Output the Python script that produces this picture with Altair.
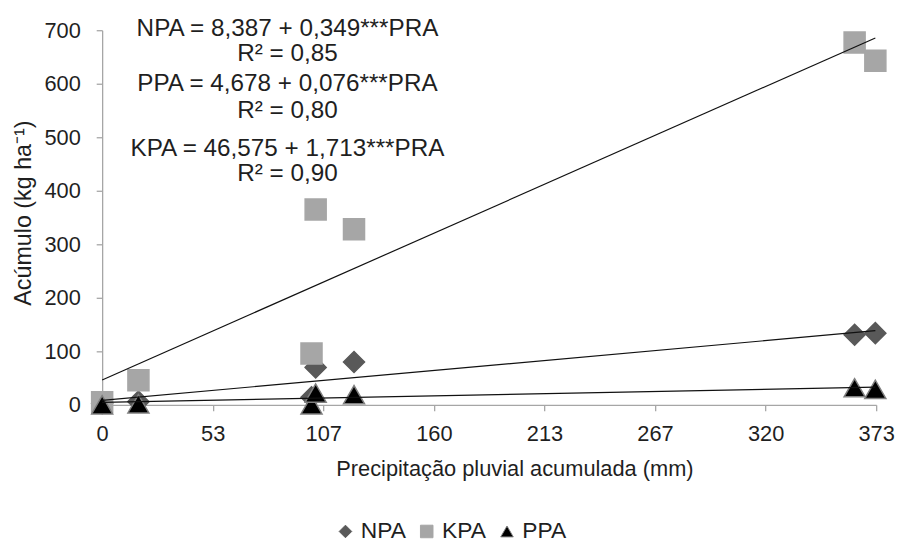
import altair as alt
import pandas as pd

# ---- data ----
series = ["NPA", "KPA", "PPA"]
x_vals = [0, 17.5, 101, 103, 121.5, 363, 373]
npa = [3, 6, 14, 70, 80, 131, 134]
kpa = [5, 46, 96, 365, 328, 677, 643]
ppa = [0, 2, 0, 22, 19, 32, 29]

line_x = [0, 373]
npa_fit = [8.387, 138.56]
kpa_fit = [46.575, 685.52]
ppa_fit = [4.678, 33.03]

x_ticks = [0, 53.343, 106.686, 160.029, 213.371, 266.714, 320.057, 373.4]
y_ticks = [0, 100, 200, 300, 400, 500, 600, 700]

eq_lines = [
    "NPA = 8,387 + 0,349***PRA",
    "R² = 0,85",
    "PPA = 4,678 + 0,076***PRA",
    "R² = 0,80",
    "KPA = 46,575 + 1,713***PRA",
    "R² = 0,90",
]
eq_y = [-1, 24, 54, 82, 120, 145]

FONT = "Liberation Sans"
TXT = "#1f1f1f"
AX = "#a6a6a6"

rows = []
for name, vals in zip(series, [npa, kpa, ppa]):
    for xv, yv in zip(x_vals, vals):
        rows.append({"x": xv, "y": yv, "serie": name})
df_pts = pd.DataFrame(rows)

lrows = []
for name, vals in zip(series, [npa_fit, kpa_fit, ppa_fit]):
    for xv, yv in zip(line_x, vals):
        lrows.append({"x": xv, "y": yv, "serie": name})
df_lines = pd.DataFrame(lrows)

xscale = alt.Scale(domain=[0, 373.4], nice=False, zero=False)
yscale = alt.Scale(domain=[0, 700], nice=False, zero=False)

xaxis = alt.Axis(
    values=x_ticks, format=".0f", title="Precipitação pluvial acumulada (mm)",
    grid=False, tickSize=6, labelPadding=30, labelBaseline="alphabetic",
    labelFlush=False, labelOverlap=False, titleX=416, titleY=71,
    titleBaseline="alphabetic", titleAlign="center",
)
yaxis = alt.Axis(
    values=y_ticks, format="d", title="Acúmulo (kg ha⁻¹)", grid=False,
    tickSize=6, labelPadding=16, labelFlush=False, titleAngle=270,
    titleX=-79, titleY=184, titleBaseline="middle", titleAlign="center",
    titleFontSize=23.5,
)

leg = alt.Legend(
    title=None, orient="none", legendX=234, legendY=494, direction="horizontal",
    symbolSize=160, labelFontSize=23, labelOffset=4, columnPadding=9,
    symbolStrokeWidth=1, padding=0,
)

points = alt.Chart(df_pts).mark_point(filled=True, size=450, strokeWidth=1.5, opacity=1).encode(
    x=alt.X("x:Q", scale=xscale, axis=xaxis),
    y=alt.Y("y:Q", scale=yscale, axis=yaxis),
    shape=alt.Shape("serie:N", scale=alt.Scale(domain=series, range=["diamond", "square", "triangle-up"]), legend=leg),
    fill=alt.Fill("serie:N", scale=alt.Scale(domain=series, range=["#595959", "#a6a6a6", "#000000"]), legend=leg),
    stroke=alt.Stroke("serie:N", scale=alt.Scale(domain=series, range=["#595959", "#a6a6a6", "#7f7f7f"]), legend=leg),
)

lines = alt.Chart(df_lines).mark_line(color="#111111", strokeWidth=1.2).encode(
    x=alt.X("x:Q", scale=xscale),
    y=alt.Y("y:Q", scale=yscale),
    detail="serie:N",
)

texts = []
for t, yy in zip(eq_lines, eq_y):
    texts.append(
        alt.Chart(alt.Data(values=[{"a": 1}])).mark_text(
            font=FONT, fontSize=24.5, color=TXT, align="center", baseline="middle"
        ).encode(x=alt.value(187), y=alt.value(yy), text=alt.value(t))
    )

chart = alt.layer(points, lines, *texts).properties(
    width=781, height=378,
    autosize=alt.AutoSizeParams(type="none"),
    padding={"left": 95, "top": 20, "right": 20, "bottom": 140},
).configure_view(stroke=None).configure_axis(
    labelFont=FONT, titleFont=FONT, labelFontSize=22, titleFontSize=22,
    labelColor=TXT, titleColor=TXT, titleFontWeight="normal",
    domainColor=AX, tickColor=AX, domainWidth=1.3, tickWidth=1.3,
).configure_legend(labelFont=FONT, labelColor=TXT)

chart.save("out.html", embed_options={"renderer": "svg", "actions": False})
